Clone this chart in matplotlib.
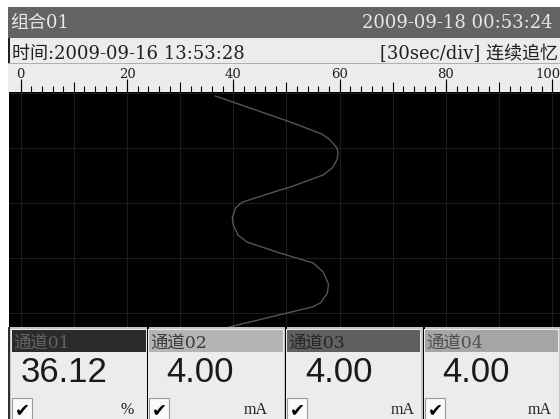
import matplotlib
matplotlib.use('Agg')
import matplotlib.pyplot as plt
from matplotlib.patches import Rectangle
from matplotlib.ticker import FixedLocator

# ---------------------------------------------------------------
# recorder screen data
# ---------------------------------------------------------------
group_name = "组合01"
now_stamp = "2009-09-18 00:53:24"
start_stamp = "时间:2009-09-16 13:53:28"
mode_text = "[30sec/div] 连续追忆"

ruler_ticks = [0, 20, 40, 60, 80, 100]
ruler_labels = ["0", "20", "40", "60", "80", "100"]
grid_sec = [0, 30, 60, 90, 120]

# trace: seconds from top, value in %
trace_sec = [1.6, 15.8, 22.4, 25.6, 30.0, 32.7, 36.5, 40.9, 44.7, 51.3, 52.9,
             59.5, 62.7, 68.2, 72.0, 77.5, 81.3, 87.3, 92.7, 97.6, 104.2,
             109.1, 114.5, 116.7, 127.6]
trace_val = [36.6, 50.7, 56.7, 58.2, 59.5, 59.7, 59.5, 58.6, 56.9, 50.7, 48.8,
             41.7, 40.4, 39.8, 40.0, 40.9, 42.6, 48.8, 55.0, 56.9, 57.9,
             57.7, 56.4, 54.8, 39.2]

channel_names = ["通道01", "通道02", "通道03", "通道04"]
channel_values = ["36.12", "4.00", "4.00", "4.00"]
channel_units = ["%", "mA", "mA", "mA"]

# panel styling
panel_x0 = [12, 149, 287, 425]
panel_x1 = [146, 283, 420, 558]
header_bg = ['#2b2b2b', '#b4b4b4', '#606060', '#a6a6a6']
header_fg = ['#626262', '#3c3c3c', '#262626', '#505050']
value_x = [21, 166, 305, 442]
unit_x = [134, 268, 415, 552]

mixed_font = ['DejaVu Serif', 'Noto Sans CJK SC']

fig = plt.figure(figsize=(5.6, 4.19), dpi=100)
fig.patch.set_facecolor('white')

bg = fig.add_axes([0, 0, 1, 1])
bg.set_xlim(0, 560)
bg.set_ylim(419, 0)
bg.axis('off')


def rect(x0, y0, x1, y1, color, **kw):
    bg.add_patch(Rectangle((x0, y0), x1 - x0, y1 - y0, fc=color, lw=0, **kw))


# title bar
rect(8, 7, 560, 38, '#636363')
bg.text(10, 28, group_name, family=mixed_font, fontsize=13, color='#e8e8e8', va='baseline')
bg.text(553, 28, now_stamp, family=mixed_font, fontsize=13, color='#e8e8e8', va='baseline', ha='right')

# time row
rect(8, 38, 560, 64, '#ececec')
rect(8, 38, 10, 64, '#202020')
rect(8, 63, 560, 64, '#b0b0b0')
bg.text(12, 59, start_stamp, family=mixed_font, fontsize=13, color='#202020', va='baseline')
bg.text(558, 59, mode_text, family=mixed_font, fontsize=13, color='#202020', va='baseline', ha='right')

# ruler background
rect(8, 64, 560, 92, '#ececec')

# bottom channel panels
rect(8, 327, 560, 419, '#c4c4c4')
rect(8, 327, 10, 419, '#303030')
for sep in [146.5, 284.5, 422.5]:
    rect(sep, 327, sep + 2, 419, '#000000')

for i in range(4):
    x0, x1 = panel_x0[i], panel_x1[i]
    rect(x0 - 1, 329, x1 + 1, 419, '#ececec')
    rect(x0, 330, x1, 352, header_bg[i])
    bg.text(x0 + 1, 348, channel_names[i], family=mixed_font, fontsize=12.5,
            color=header_fg[i], va='baseline')
    bg.text(value_x[i], 382, channel_values[i], family='Liberation Sans', fontsize=25,
            color='#1a1a1a', va='baseline')
    bg.add_patch(Rectangle((x0, 398), 20, 22, fc='#fafafa', ec='#9a9a9a', lw=0.8))
    bg.text(x0 + 10, 410, '✔', family='DejaVu Sans', fontsize=13, color='black',
            ha='center', va='center')
    bg.text(unit_x[i], 414, channel_units[i], family='Liberation Serif', fontsize=11.5,
            color='#202020', va='baseline', ha='right')

# trend area
ax = fig.add_axes([9 / 560, (419 - 327) / 419, (560 - 9) / 560, (327 - 92) / 419])
ax.set_facecolor('black')
for s in ax.spines.values():
    s.set_visible(False)
ax.set_xlim(-2.2, 101.45)
ax.set_ylim(127.6, -0.55)

ax.xaxis.tick_top()
ax.xaxis.set_major_locator(FixedLocator(list(range(0, 101, 10))))
ax.xaxis.set_minor_locator(FixedLocator(list(range(0, 101, 2))))
ax.tick_params(axis='x', which='major', length=7.2, width=0.8, color='black', labeltop=False, direction='out')
ax.tick_params(axis='x', which='minor', length=4.5, width=0.8, color='black', direction='out')
ax.set_yticks(grid_sec)
ax.tick_params(axis='y', length=0, labelleft=False)
ax.grid(True, which='major', color='#1c1c1c', lw=0.8)
ax.set_axisbelow(True)

sec = ax.secondary_xaxis('top')
sec.set_xticks(ruler_ticks)
sec.tick_params(length=9.4, width=0.8, color='black', labeltop=False)
for s in sec.spines.values():
    s.set_visible(False)

for v, lab in zip(ruler_ticks, ruler_labels):
    dx = -3 if v == 100 else 0
    ax.annotate(lab, xy=(v, 1), xycoords=('data', 'axes fraction'), xytext=(dx, 10),
                textcoords='offset points', ha='center', va='baseline',
                family='DejaVu Serif', fontsize=9.5, color='#202020', annotation_clip=False)

ax.plot(trace_val, trace_sec, color='#555555', lw=1.0, solid_joinstyle='round')

fig.savefig('out.png', dpi=100, facecolor='white')
